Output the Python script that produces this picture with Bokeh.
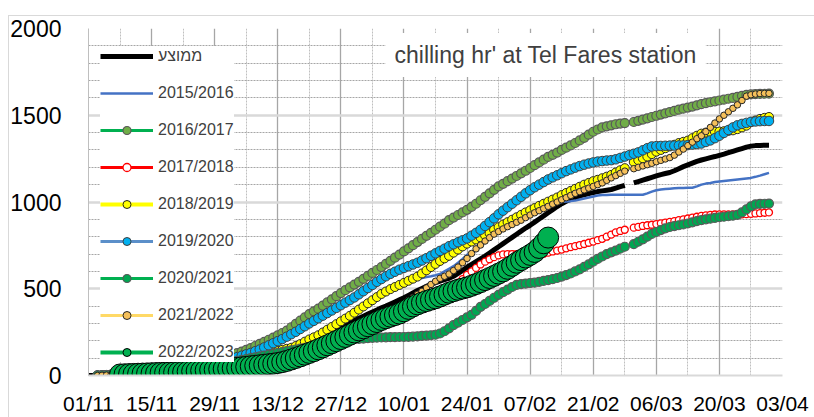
import numpy as np
from bokeh.plotting import figure
from bokeh.models import FixedTicker, Legend, LegendItem, Label, Range1d
from bokeh.embed import file_html
from bokeh.resources import INLINE

N = None
FONT = "Liberation Sans"

# day index: 0 = 01/11 ... 154 = 03/04
days = list(range(152))
x_ticks = [0, 14, 28, 42, 56, 70, 84, 98, 112, 126, 140, 154]
x_minor = [7, 21, 35, 49, 63, 77, 91, 105, 119, 133, 147]
x_tick_labels = ["01/11", "15/11", "29/11", "13/12", "27/12", "10/01",
                 "24/01", "07/02", "21/02", "06/03", "20/03", "03/04"]
y_ticks = [0, 500, 1000, 1500, 2000]
y_minor = [100, 200, 300, 400, 600, 700, 800, 900, 1100, 1200, 1300, 1400,
           1600, 1700, 1800, 1900]

avg = [0, 0, 0, 0, 1, 3, 5, 7, 9, 11,
       13, 15, 17, 19, 21, 23, 26, 29, 32, 35,
       38, 41, 44, 47, 51, 55, 59, 63, 67, 72,
       76, 80, 84, 88, 92, 96, 100, 105, 110, 116,
       122, 128, 135, 142, 150, 158, 167, 176, 186, 196,
       206, 217, 228, 240, 252, 264, 276, 289, 302, 316,
       330, 342, 354, 366, 378, 390, 400, 412, 424, 436,
       448, 462, 476, 490, 502, 514, 525, 535, 544, 552,
       560, 572, 588, 606, 624, 640, 656, 672, 688, 706,
       724, 742, 760, 778, 796, 814, 832, 850, 866, 884,
       902, 920, 938, 956, 974, 990, 1004, 1016, 1026, 1034,
       1042, 1048, 1054, 1060, 1064, 1068, 1072, 1080, 1088, 1096,
       N, 1110, 1118, 1126, 1134, 1142, 1150, 1158, 1164, 1170,
       1180, 1192, 1204, 1214, 1224, 1234, 1242, 1249, 1256, 1262,
       1269, 1276, 1284, 1292, 1300, 1308, 1316, 1322, 1325, 1326,
       1327, 1327]

s1516 = [N, N, 0, 0, 1, 2, 4, 6, 8, 10,
         12, 14, 16, 18, 21, 24, 27, 30, 33, 36,
         40, 43, 46, 49, 52, 55, 58, 61, 64, 67,
         70, 74, 78, 82, 86, 91, 96, 102, 108, 116,
         125, 132, 139, 146, 152, 158, 166, 176, 190, 203,
         215, 227, 243, 259, 275, 291, 307, 323, 339, 357,
         375, 393, 411, 429, 447, 465, 479, 493, 505, 517,
         529, 541, 553, 558, 562, 567, 572, 578, 585, 600,
         615, 630, 650, 672, 695, 708, 720, 745, 770, 790,
         810, 825, 840, 853, 865, 878, 890, 905, 920, 933,
         945, 957, 970, 982, 993, 1000, 1003, 1005, 1008, 1014,
         1020, 1026, 1032, 1037, 1040, 1041, 1042, 1042, 1042, 1042,
         1042, 1042, 1042, 1042, 1050, 1060, 1068, 1072, 1075, 1077,
         1079, 1080, 1081, 1082, 1082, 1090, 1100, 1106, 1110, 1115,
         1118, 1121, 1124, 1127, 1130, 1133, 1136, 1139, 1145, 1152,
         1160, 1168]

s1617 = [N, N, 0, 1, 3, 5, 7, 9, 11, 13,
         15, 18, 21, 24, 27, 31, 35, 39, 43, 46,
         50, 55, 60, 65, 70, 75, 80, 86, 92, 98,
         105, 113, 121, 129, 138, 148, 158, 170, 182, 194,
         206, 218, 231, 245, 259, 278, 297, 316, 335, 354,
         370, 385, 403, 421, 439, 457, 475, 492, 508, 524,
         540, 557, 574, 591, 608, 625, 643, 661, 679, 697,
         715, 733, 751, 769, 787, 805, 822, 840, 858, 875,
         895, 910, 925, 940, 955, 972, 990, 1010, 1030, 1050,
         1070, 1090, 1105, 1120, 1135, 1150, 1165, 1180, 1196, 1212,
         1228, 1244, 1260, 1272, 1285, 1300, 1313, 1326, 1340, 1355,
         1370, 1388, 1405, 1418, 1430, 1436, 1442, 1448, 1452, 1455,
         N, 1461, 1468, 1475, 1482, 1490, 1497, 1504, 1511, 1518,
         1525, 1532, 1538, 1544, 1550, 1557, 1564, 1570, 1575, 1580,
         1585, 1590, 1595, 1600, 1606, 1612, 1617, 1620, 1622, 1623,
         1624, 1625]

s1718 = [N, N, 0, 1, 2, 2, 3, 4, 5, 7,
         8, 9, 10, 11, 13, 14, 15, 16, 18, 19,
         20, 22, 23, 25, 26, 28, 30, 32, 35, 37,
         40, 43, 46, 49, 52, 55, 59, 63, 67, 71,
         75, 80, 86, 92, 98, 105, 113, 122, 131, 140,
         150, 161, 172, 183, 194, 205, 218, 231, 244, 257,
         270, 282, 294, 306, 318, 330, 341, 352, 363, 374,
         385, 396, 407, 418, 429, 440, 452, 464, 476, 488,
         500, 515, 535, 555, 580, 600, 620, 640, 656, 670,
         682, 692, 698, 700, 700, 700, 700, 700, 700, 700,
         700, 702, 708, 715, 720, 726, 733, 740, 746, 752,
         758, 765, 772, 780, 788, 800, 812, 825, 833, 840,
         N, 852, 857, 862, 866, 869, 873, 877, 881, 885,
         890, 895, 900, 905, 910, 915, 920, 923, 926, 928,
         929, 929, 929, 929, 929, 929, 930, 932, 934, 936,
         938, 940]

s1819 = [N, N, 0, 1, 2, 4, 6, 8, 10, 12,
         14, 16, 18, 20, 22, 25, 28, 31, 34, 37,
         40, 43, 46, 49, 52, 55, 58, 61, 64, 68,
         72, 76, 80, 85, 90, 96, 102, 108, 114, 120,
         127, 134, 141, 148, 154, 160, 170, 181, 195, 208,
         220, 232, 248, 264, 280, 296, 312, 328, 344, 362,
         380, 398, 416, 434, 452, 470, 484, 498, 510, 522,
         534, 546, 558, 570, 588, 606, 625, 643, 660, 675,
         690, 708, 726, 744, 760, 772, 784, 796, 808, 820,
         840, 855, 870, 884, 898, 912, 926, 940, 952, 965,
         978, 990, 1002, 1014, 1026, 1040, 1052, 1064, 1076, 1088,
         1100, 1110, 1120, 1128, 1137, 1146, 1156, 1170, 1183, 1195,
         N, 1230, 1241, 1252, 1262, 1276, 1290, 1300, 1310, 1320,
         1330, 1340, 1347, 1354, 1368, 1382, 1394, 1400, 1403, 1405,
         1406, 1408, 1410, 1413, 1420, 1430, 1440, 1460, 1470, 1479,
         1485, 1490]

s1920 = [N, N, 0, 1, 2, 3, 5, 7, 9, 10,
         12, 14, 16, 18, 20, 23, 26, 29, 33, 36,
         40, 44, 48, 52, 56, 60, 65, 70, 75, 80,
         85, 92, 99, 106, 114, 122, 130, 140, 150, 162,
         174, 186, 198, 210, 224, 238, 252, 268, 284, 300,
         315, 330, 345, 360, 375, 390, 405, 420, 435, 450,
         468, 486, 504, 522, 540, 556, 572, 586, 598, 610,
         620, 630, 640, 650, 663, 676, 690, 704, 718, 731,
         745, 756, 768, 779, 790, 806, 822, 840, 862, 884,
         906, 929, 950, 970, 990, 1010, 1030, 1050, 1068, 1085,
         1100, 1115, 1130, 1142, 1154, 1166, 1178, 1188, 1198, 1207,
         1215, 1222, 1228, 1233, 1236, 1239, 1241, 1246, 1254, 1262,
         1270, 1278, 1286, 1298, 1310, 1320, 1322, 1323, 1324, 1325,
         1325, 1326, 1326, 1328, 1331, 1334, 1337, 1346, 1355, 1368,
         1382, 1398, 1415, 1430, 1442, 1450, 1456, 1462, 1464, 1466,
         1467, 1467]

s2021 = [N, N, 0, 1, 2, 3, 4, 6, 7, 9,
         10, 12, 14, 16, 18, 20, 23, 26, 29, 32,
         35, 38, 41, 44, 47, 50, 53, 57, 61, 65,
         70, 75, 80, 85, 90, 95, 100, 105, 110, 115,
         120, 125, 130, 135, 140, 145, 150, 155, 160, 165,
         170, 175, 180, 185, 190, 195, 199, 203, 206, 209,
         211, 213, 215, 217, 218, 219, 220, 221, 221, 222,
         222, 223, 224, 226, 228, 230, 232, 235, 242, 255,
         272, 290, 305, 320, 335, 350, 372, 395, 412, 430,
         448, 465, 480, 495, 510, 522, 527, 530, 533, 535,
         540, 545, 550, 555, 562, 570, 579, 588, 600, 612,
         626, 640, 656, 672, 686, 700, 710, 720, 731, 742,
         N, 757, 771, 785, 800, 816, 827, 838, 848, 856,
         861, 866, 871, 876, 883, 890, 895, 900, 904, 908,
         912, 915, 918, 921, 926, 940, 958, 975, 986, 989,
         990, 991]

s2122 = [N, N, 0, 1, 2, 3, 4, 5, 6, 8,
         10, 11, 12, 14, 15, 17, 18, 20, 22, 24,
         25, 27, 29, 31, 33, 35, 37, 40, 42, 45,
         48, 51, 54, 57, 60, 64, 68, 72, 76, 80,
         85, 91, 97, 103, 110, 118, 126, 133, 140, 150,
         160, 172, 185, 197, 208, 220, 233, 246, 260, 270,
         280, 290, 300, 310, 320, 337, 355, 370, 385, 400,
         415, 432, 450, 467, 485, 505, 525, 543, 560, 572,
         585, 605, 625, 650, 675, 703, 730, 752, 775, 795,
         815, 830, 845, 858, 870, 883, 895, 910, 925, 938,
         950, 962, 975, 988, 1000, 1013, 1025, 1038, 1050, 1060,
         1070, 1080, 1090, 1100, 1110, 1125, 1139, 1152, 1165, 1178,
         N, 1192, 1200, 1208, 1215, 1223, 1232, 1240, 1248, 1256,
         1270, 1288, 1305, 1325, 1345, 1365, 1382, 1406, 1430, 1455,
         1479, 1500, 1520, 1540, 1560, 1585, 1610, 1618, 1622, 1625,
         1626, 1626]

s2223 = [N, N, N, N, N, N, N, 6, 7, 8,
         9, 10, 11, 12, 13, 14, 15, 16, 17, 18,
         19, 20, 22, 24, 26, 28, 30, 32, 34, 36,
         38, 40, 42, 44, 47, 50, 53, 56, 59, 62,
         65, 68, 72, 77, 84, 92, 101, 110, 120, 130,
         140, 151, 162, 174, 186, 198, 210, 222, 235, 248,
         260, 272, 284, 296, 308, 320, 330, 339, 348, 357,
         370, 384, 398, 410, 420, 429, 437, 445, 455, 466,
         477, 486, 494, 501, 508, 517, 527, 538, 550, 562,
         574, 587, 600, 615, 632, 650, 665, 680, 695, 712,
         735, 762, 795] + [N] * 49

names = ["ממוצע", "2015/2016", "2016/2017", "2017/2018", "2018/2019",
         "2019/2020", "2020/2021", "2021/2022", "2022/2023"]


def arr(v):
    return np.array([np.nan if a is None else a for a in v], dtype=float)


p = figure(width=814, height=417, x_range=Range1d(0, 154), y_range=Range1d(0, 2000),
           output_backend="svg", toolbar_location=None,
           min_border_left=88, min_border_right=32, min_border_top=28, min_border_bottom=36)
p.outline_line_color = None
p.background_fill_color = "white"
p.border_fill_color = None
p.styles = {
    "background": "linear-gradient(#D9D9D9, #D9D9D9) 8px 15px / 1px 100% no-repeat, "
                  "linear-gradient(#D9D9D9, #D9D9D9) 8px 15px / 100% 1px no-repeat, white"
}

xt = FixedTicker(ticks=x_ticks, minor_ticks=x_minor)
yt = FixedTicker(ticks=y_ticks, minor_ticks=y_minor)
p.xaxis.ticker = xt
p.yaxis.ticker = yt
p.xaxis.major_label_overrides = {t: l for t, l in zip(x_ticks, x_tick_labels)}

for ax, fs, so in ((p.xaxis, "21px", 12), (p.yaxis, "23px", 23)):
    ax.major_tick_line_color = None
    ax.minor_tick_line_color = None
    ax.major_tick_out = 0
    ax.major_tick_in = 0
    ax.major_label_text_font = FONT
    ax.major_label_text_font_size = fs
    ax.major_label_text_color = "black"
    ax.major_label_standoff = so
p.xaxis.axis_line_color = "#D9D9D9"
p.xaxis.axis_line_width = 2
p.yaxis.axis_line_color = "#BFBFBF"
p.yaxis.axis_line_width = 1

p.xgrid.ticker = xt
p.ygrid.ticker = yt
p.xgrid.grid_line_color = "#A6A6A6"
p.xgrid.grid_line_width = 1.3
p.xgrid.minor_grid_line_color = "#BFBFBF"
p.xgrid.minor_grid_line_dash = "2 1"
p.xgrid.minor_grid_line_width = 1
p.ygrid.grid_line_color = "#D9D9D9"
p.ygrid.grid_line_width = 2.5
p.ygrid.minor_grid_line_color = "#A6A6A6"
p.ygrid.minor_grid_line_dash = "2 1"
p.ygrid.minor_grid_line_width = 1

styles = [
    (avg, "#000000", 5, None),
    (s1516, "#4472C4", 2.5, None),
    (s1617, "#00B050", 3, dict(size=9, fill_color="#70AD47", line_color="#595959", line_width=1.2)),
    (s1718, "#FF0000", 3, dict(size=7, fill_color="white", line_color="#FF0000", line_width=1.3)),
    (s1819, "#FFFF00", 4, dict(size=9, fill_color="#FFFF00", line_color="#262626", line_width=1)),
    (s1920, "#5B8FC9", 3, dict(size=9.5, fill_color="#00B0F0", line_color="#404040", line_width=1)),
    (s2021, "#00B050", 3, dict(size=9, fill_color="#00A651", line_color="#595959", line_width=1.2)),
    (s2122, "#FFD966", 3, dict(size=6.5, fill_color="#F5C05A", line_color="#262626", line_width=1)),
    (s2223, "#00B050", 4, dict(size=21, fill_color="#00B050", line_color="#000000", line_width=1)),
]

items = []
for (vals, lc, lw, mk), name in zip(styles, names):
    y = arr(vals)
    rs = [p.line(days, y, line_color=lc, line_width=lw)]
    if mk:
        rs.append(p.scatter(days, y, marker="circle", **mk))
    items.append(LegendItem(label=name, renderers=rs))

legend = Legend(items=items, location=(12, 13), glyph_width=53, glyph_height=20,
                label_height=20, spacing=17, padding=7, margin=0, label_standoff=5,
                label_text_font=FONT, label_text_font_size="16px",
                label_text_color="#404040", background_fill_color="white",
                background_fill_alpha=1, border_line_color=None)
p.add_layout(legend)

title = Label(x=65.9, y=1847, text="chilling hr' at Tel Fares station",
              text_font=FONT, text_font_size="23px", text_color="#404040",
              text_baseline="middle", text_align="left",
              background_fill_color="white", background_fill_alpha=1, padding=9)
p.add_layout(title)

open("out.html", "w").write(file_html(p, INLINE))
